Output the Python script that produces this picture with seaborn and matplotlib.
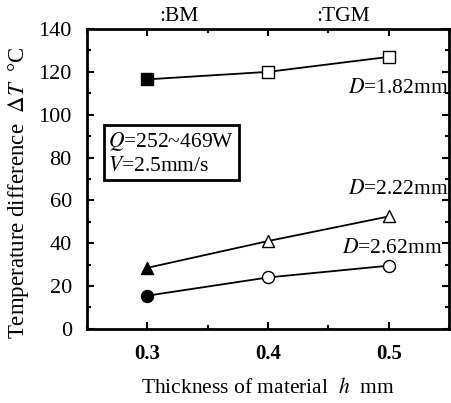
import pandas as pd
import seaborn as sns
import matplotlib.pyplot as plt
from matplotlib.ticker import MultipleLocator

# Data
thickness = [0.3, 0.4, 0.5]
dT_182 = [116.5, 120.0, 127.0]
dT_222 = [28.5, 41.0, 52.5]
dT_262 = [15.5, 24.0, 29.5]
diameters = ["1.82", "2.22", "2.62"]
markers = {"1.82": "s", "2.22": "^", "2.62": "o"}

df = pd.DataFrame({
    "h": thickness * 3,
    "dT": dT_182 + dT_222 + dT_262,
    "D": [d for d in diameters for _ in thickness],
})
df["kind"] = ["BM" if h == 0.3 else "TGM" for h in df["h"]]

sns.set_style("ticks", {"axes.edgecolor": "black", "xtick.color": "black",
                        "ytick.color": "black", "text.color": "black",
                        "axes.labelcolor": "black"})
plt.rcParams["font.family"] = ["Liberation Serif", "DejaVu Serif"]
plt.rcParams["mathtext.fontset"] = "stix"

fig = plt.figure(figsize=(4.51, 4.03), dpi=100)
ax = fig.add_axes([0.193, 0.184, 0.803, 0.744])

sns.lineplot(data=df, x="h", y="dT", hue="D", palette=["black"] * 3,
             linewidth=1.3, legend=False, ax=ax, zorder=1)

bm = df[df["kind"] == "BM"]
tgm = df[df["kind"] == "TGM"]
for d in diameters:
    sub = bm[bm["D"] == d]
    ax.scatter(sub["h"], sub["dT"], marker=markers[d], s=75, facecolor="black",
               edgecolor="black", linewidth=1, zorder=3)
    sub = tgm[tgm["D"] == d]
    ax.scatter(sub["h"], sub["dT"], marker=markers[d], s=75, facecolor="white",
               edgecolor="black", linewidth=1, zorder=3)

fs = 15.5
ax.set_xlim(0.25, 0.55)
ax.set_ylim(0, 140)
ax.xaxis.set_major_locator(MultipleLocator(0.1))
ax.xaxis.set_minor_locator(MultipleLocator(0.05))
ax.yaxis.set_major_locator(MultipleLocator(20))
ax.yaxis.set_minor_locator(MultipleLocator(10))
ax.tick_params(which="both", direction="in", top=True, right=True, width=1.5)
ax.tick_params(which="major", length=5)
ax.tick_params(which="minor", length=3)
ax.tick_params(axis="x", labelsize=fs - 0.5, pad=11)
ax.tick_params(axis="y", labelsize=fs + 0.5, pad=11)
for lab in ax.get_xticklabels():
    lab.set_fontweight("bold")
for s in ax.spines.values():
    s.set_linewidth(2)

ax.set_xlabel("Thickness of material  $h$  mm", fontsize=fs, labelpad=10)
ax.set_ylabel("Temperature difference  $\\mathit{\\Delta T}$  °C", fontsize=16.5)
ax.yaxis.set_label_coords(-0.155, 0.455)

ax.text(0.5495, 112, "$D$=1.82mm", ha="right", va="center", fontsize=fs)
ax.text(0.5495, 65, "$D$=2.22mm", ha="right", va="center", fontsize=fs)
ax.text(0.5445, 37.5, "$D$=2.62mm", ha="right", va="center", fontsize=fs)

ax.text(0.2675, 82, "$Q$=252~469W\n$V$=2.5mm/s", fontsize=fs, va="center",
        linespacing=1.25,
        bbox=dict(boxstyle="square,pad=0.2", facecolor="white",
                  edgecolor="black", linewidth=2))

ax.text(0.31, 141.5, ":BM", fontsize=fs, va="bottom")
ax.text(0.44, 141.5, ":TGM", fontsize=fs, va="bottom")

fig.savefig("out.png", dpi=100)
